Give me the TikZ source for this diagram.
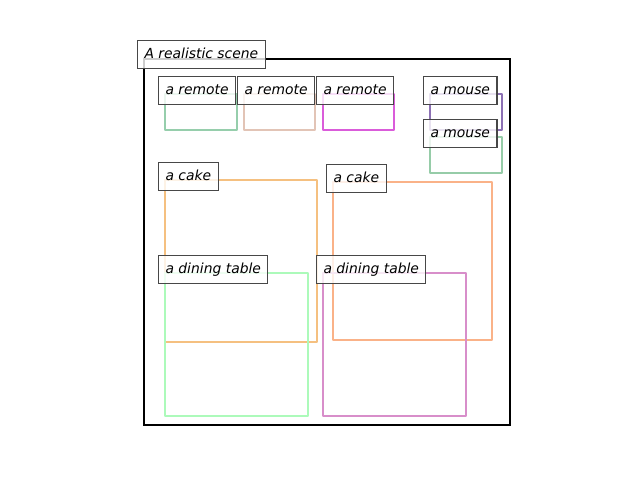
\documentclass[tikz,border=0pt]{standalone}
\usepackage{fontspec}
\setsansfont{DejaVu Sans}
\definecolor{remoteA}{RGB}{150,206,172}
\definecolor{remoteB}{RGB}{226,196,182}
\definecolor{remoteC}{RGB}{218,92,218}
\definecolor{mouseA}{RGB}{140,112,180}
\definecolor{mouseB}{RGB}{150,204,168}
\definecolor{cakeA}{RGB}{245,192,128}
\definecolor{cakeB}{RGB}{250,178,136}
\definecolor{tableA}{RGB}{172,250,186}
\definecolor{tableB}{RGB}{216,142,202}
\begin{document}
\begin{tikzpicture}[x=0.72pt, y=-0.72pt,
  box/.style={line width=2.1pt, line join=round},
  lbl/.style={anchor=north west, draw=black!72, line width=0.8pt, fill=white, fill opacity=0.8, text opacity=1,
    inner sep=5pt, text height=7.8pt, text depth=2.2pt, font=\sffamily\itshape\fontsize{10}{12}\selectfont}]
\useasboundingbox (0,0) rectangle (640,480);
\draw[line width=1.9pt] (144,59) rectangle (510,425);
\draw[box, remoteA] (165,94) rectangle (237,130);
\draw[box, remoteB] (244,94) rectangle (315,130);
\draw[box, remoteC] (323,94) rectangle (394,130);
\draw[box, mouseA] (430,94) rectangle (502,130);
\draw[box, mouseB] (430,137) rectangle (502,173);
\draw[box, cakeA] (165,180) rectangle (317,342);
\draw[box, cakeB] (333,182) rectangle (492,340);
\draw[box, tableA] (165,273) rectangle (308,416);
\draw[box, tableB] (323,273) rectangle (466,416);
% labels on top
\node[lbl] (title) at (137,40) {A realistic scene};
\node[lbl] (remote1) at (158,76) {a remote};
\node[lbl] (remote2) at (237,76) {a remote};
\node[lbl] (remote3) at (316,76) {a remote};
\node[lbl] (mouse1) at (423,76) {a mouse};
\node[lbl] (mouse2) at (423,119) {a mouse};
\node[lbl] (cake1) at (158,162) {a cake};
\node[lbl] (cake2) at (326,164) {a cake};
\node[lbl] (table1) at (158,255) {a dining table};
\node[lbl] (table2) at (316,255) {a dining table};
\end{tikzpicture}
\end{document}
